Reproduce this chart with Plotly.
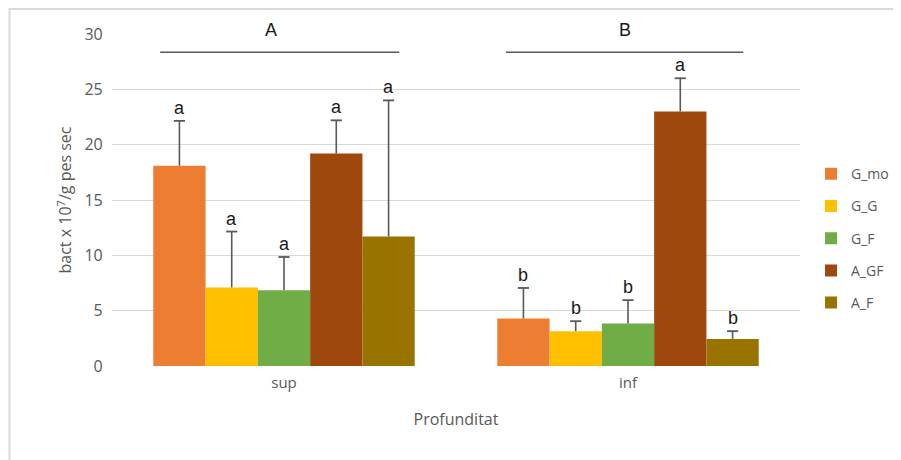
import plotly.graph_objects as go

categories = ["sup", "inf"]
series = ["G_mo", "G_G", "G_F", "A_GF", "A_F"]
colors = ["#ED7D31", "#FFC000", "#70AD47", "#9E480E", "#997300"]
values = {
    "G_mo": [18.1, 4.3],
    "G_G": [7.1, 3.15],
    "G_F": [6.85, 3.85],
    "A_GF": [19.2, 23.0],
    "A_F": [11.7, 2.45],
}
errors = {
    "G_mo": [4.05, 2.75],
    "G_G": [5.05, 0.9],
    "G_F": [3.0, 2.1],
    "A_GF": [3.0, 3.0],
    "A_F": [12.3, 0.7],
}
letters = {
    "G_mo": ["a", "b"],
    "G_G": ["a", "b"],
    "G_F": ["a", "b"],
    "A_GF": ["a", "a"],
    "A_F": ["a", "b"],
}
group_labels = ["A", "B"]
group_line_y = 28.35

gray = "#595959"
bargap = 0.24
n = len(series)
bw = (1 - bargap) / n
cat_x = list(range(len(categories)))

fig = go.Figure()
for s, c in zip(series, colors):
    fig.add_trace(go.Bar(
        name=s, x=cat_x, y=values[s], marker_color=c, marker_line_width=0,
        legendgroup=s,
    ))

ann = []
for i, s in enumerate(series):
    ex, ey, tx, ty = [], [], [], []
    for j in cat_x:
        xpos = j + (i - (n - 1) / 2) * bw
        top = values[s][j] + errors[s][j]
        ex += [xpos, xpos, None]
        ey += [values[s][j], top, None]
        tx.append(xpos)
        ty.append(top)
        ann.append(dict(x=xpos, y=top, text=letters[s][j],
                        showarrow=False, yanchor="bottom", yshift=1,
                        font=dict(size=18, color="#1a1a1a", family="Liberation Sans")))
    fig.add_trace(go.Scatter(x=ex, y=ey, mode="lines", line=dict(color=gray, width=1.6),
                             showlegend=False, hoverinfo="skip"))
    fig.add_trace(go.Scatter(x=tx, y=ty, mode="markers",
                             marker=dict(symbol="line-ew", size=8,
                                         line=dict(color=gray, width=1.8)),
                             showlegend=False, hoverinfo="skip"))

shapes = []
for j, g in enumerate(group_labels):
    x0 = j - 0.36 + (0.005 if j else 0)
    x1 = j + 0.335
    shapes.append(dict(type="line", x0=x0, x1=x1, y0=group_line_y, y1=group_line_y,
                       xref="x", yref="y", line=dict(color=gray, width=1.3)))
    ann.append(dict(x=(x0 + x1) / 2 - (0.024 if j == 0 else 0), y=group_line_y,
                    text=g, showarrow=False, yanchor="bottom", yshift=10,
                    font=dict(size=18, color="#1a1a1a", family="Liberation Sans")))

shapes.append(dict(type="rect", xref="paper", yref="paper",
                   x0=-0.149, x1=1.3, y0=-0.5, y1=1.0753,
                   line=dict(color="#d9d9d9", width=2), fillcolor="rgba(0,0,0,0)",
                   layer="below"))

fig.update_layout(
    width=901, height=460,
    margin=dict(l=104, r=109, t=26, b=102, autoexpand=False),
    plot_bgcolor="white", paper_bgcolor="white",
    barmode="group", bargap=bargap, bargroupgap=0,
    font=dict(family="Open Sans", color=gray, size=14),
    showlegend=True,
    legend=dict(x=1.016, y=0.385, yanchor="middle", xanchor="left",
                font=dict(size=14, color=gray, family="Open Sans"),
                itemwidth=30, tracegroupgap=11, traceorder="grouped"),
    annotations=ann, shapes=shapes,
    xaxis=dict(showgrid=False, zeroline=False, showline=False, ticks="",
               tickvals=cat_x, ticktext=categories, ticklabelstandoff=6,
               tickfont=dict(size=15, color=gray), range=[-0.5, 1.5],
               title=dict(text="Profunditat", font=dict(size=16, color=gray), standoff=22)),
    yaxis=dict(range=[0, 30], dtick=5, showgrid=True, gridcolor="#d9d9d9", gridwidth=1.3,
               zeroline=False, showline=False, ticks="", tickfont=dict(size=16, color=gray),
               ticksuffix="  ",
               title=dict(text="bact x 10<sup>7</sup>/g pes sec", font=dict(size=16, color=gray), standoff=8)),
)
fig.write_html("out.html")
